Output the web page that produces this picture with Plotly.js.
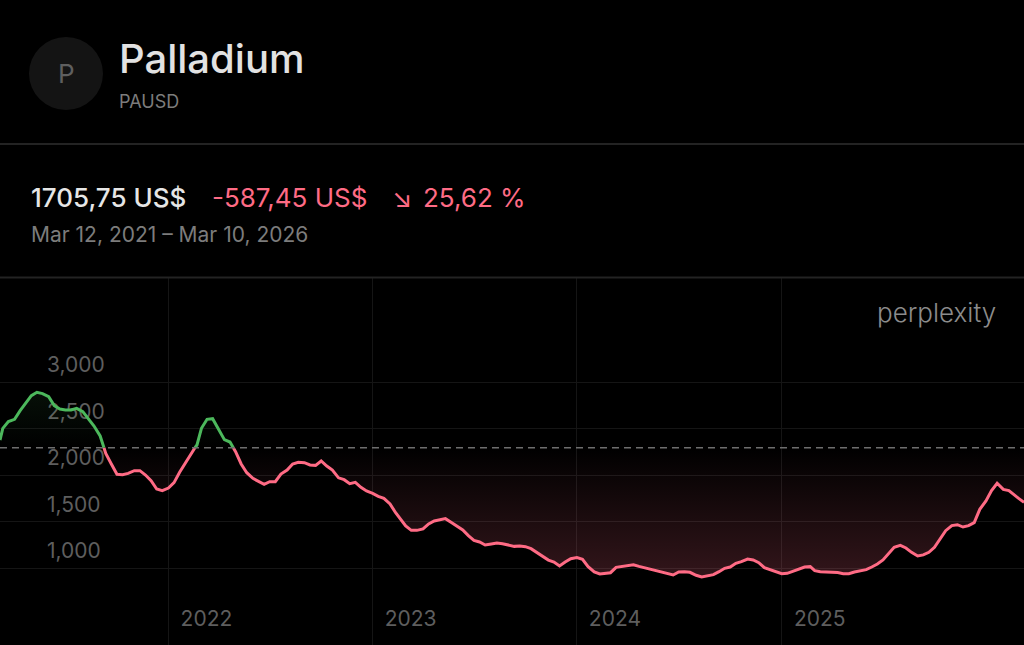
<!DOCTYPE html>
<html><head><meta charset="utf-8">
<script src="https://cdn.plot.ly/plotly-3.0.1.min.js"></script>
<style>html,body{margin:0;padding:0;background:#000;overflow:hidden}#c{width:1024px;height:645px}</style>
</head><body><div id="c"></div>
<script>
const dates = [
"2021-03-06","2021-03-11","2021-03-21","2021-04-01","2021-04-11","2021-04-21","2021-05-01","2021-05-11","2021-05-21","2021-06-01","2021-06-11","2021-06-21","2021-07-01","2021-07-11","2021-07-21","2021-08-01","2021-08-11","2021-08-21","2021-09-01","2021-09-11","2021-09-21","2021-10-01","2021-10-11","2021-10-21","2021-11-01","2021-11-11","2021-11-21","2021-12-01","2021-12-11","2021-12-21",
"2022-01-01","2022-01-11","2022-01-21","2022-02-01","2022-02-11","2022-02-21","2022-03-01","2022-03-11","2022-03-21","2022-04-01","2022-04-11","2022-04-21","2022-05-01","2022-05-11","2022-05-21","2022-06-01","2022-06-11","2022-06-21","2022-07-01","2022-07-11","2022-07-21","2022-08-01","2022-08-11","2022-08-21","2022-09-01","2022-09-11","2022-09-21","2022-10-01","2022-10-11","2022-10-21","2022-11-01","2022-11-11","2022-11-21","2022-12-01","2022-12-11","2022-12-21",
"2023-01-01","2023-01-11","2023-01-21","2023-02-01","2023-02-11","2023-02-21","2023-03-01","2023-03-11","2023-03-21","2023-04-01","2023-04-11","2023-04-21","2023-05-01","2023-05-11","2023-05-21","2023-06-01","2023-06-11","2023-06-21","2023-07-01","2023-07-11","2023-07-21","2023-08-01","2023-08-11","2023-08-21","2023-09-01","2023-09-11","2023-09-21","2023-10-01","2023-10-11","2023-10-21","2023-11-01","2023-11-11","2023-11-21","2023-12-01","2023-12-11","2023-12-21",
"2024-01-01","2024-01-11","2024-01-21","2024-02-01","2024-02-11","2024-02-21","2024-03-01","2024-03-11","2024-03-21","2024-04-01","2024-04-11","2024-04-21","2024-05-01","2024-05-11","2024-05-21","2024-06-01","2024-06-11","2024-06-21","2024-07-01","2024-07-11","2024-07-21","2024-08-01","2024-08-11","2024-08-21","2024-09-01","2024-09-11","2024-09-21","2024-10-01","2024-10-11","2024-10-21","2024-11-01","2024-11-11","2024-11-21","2024-12-01","2024-12-11","2024-12-21",
"2025-01-01","2025-01-11","2025-01-21","2025-02-01","2025-02-11","2025-02-21","2025-03-01","2025-03-11","2025-03-21","2025-04-01","2025-04-11","2025-04-21","2025-05-01","2025-05-11","2025-05-21","2025-06-01","2025-06-11","2025-06-21","2025-07-01","2025-07-11","2025-07-21","2025-08-01","2025-08-11","2025-08-21","2025-09-01","2025-09-11","2025-09-21","2025-10-01","2025-10-11","2025-10-21","2025-11-01","2025-11-11","2025-11-21","2025-12-01","2025-12-11","2025-12-21",
"2026-01-01","2026-01-11","2026-01-21","2026-02-01","2026-02-11","2026-02-21","2026-03-01","2026-03-10"];
const prices = [
2376,2502,2574,2599,2692,2771,2853,2889,2875,2842,2746,2710,2699,2699,2717,2681,2609,2527,2420,2233,2119,2008,2004,2018,2047,2047,2000,1939,1850,1832,
1860,1918,2029,2133,2240,2323,2502,2599,2606,2484,2380,2355,2251,2119,2025,1964,1932,1900,1929,1929,2011,2054,2119,2137,2133,2108,2104,2151,2097,2054,1970,1950,1907,1921,1868,1828,
1803,1771,1749,1689,1595,1509,1452,1405,1405,1420,1474,1506,1520,1531,1491,1452,1409,1348,1298,1280,1248,1259,1269,1262,1248,1233,1237,1230,1208,1169,1122,1086,1065,1022,1065,1101,
1112,1094,1015,958,936,943,950,1008,1018,1033,1036,1018,1004,990,975,961,940,925,958,961,954,922,904,915,929,961,997,1011,1051,1069,1097,1087,1058,1004,983,965,
940,943,965,997,1011,1015,972,961,958,958,951,940,940,958,972,983,1011,1044,1087,1155,1223,1244,1216,1169,1130,1141,1169,1223,1316,1402,1456,1466,1441,1456,1488,1631,
1721,1832,1911,1846,1832,1789,1746,1705.75];
const baseline = 2293.2;
const yTicks = [1000,1500,2000,2500,3000];
const yearTicks = ["2022-01-01","2023-01-01","2024-01-01","2025-01-01"];
const yearLabels = ["2022","2023","2024","2025"];

const UP="#4cb85c", DOWN="#ff6b85";
// insert the baseline crossings so the colour changes exactly on the dashed line
const xs=[], ys=[];
dates.forEach((d,i)=>{
  if(i>0 && (prices[i-1]-baseline)*(prices[i]-baseline)<0){
    const a=Date.parse(dates[i-1]), b=Date.parse(d), t=(baseline-prices[i-1])/(prices[i]-prices[i-1]);
    xs.push(new Date(a+(b-a)*t).toISOString()); ys.push(baseline);
  }
  xs.push(d); ys.push(prices[i]);
});
const base=xs.map(()=>baseline);
const line=(y,c)=>({x:xs,y,mode:'lines',line:{color:c,width:3},hoverinfo:'skip',showlegend:false,connectgaps:false});
const none={x:xs,y:base,mode:'lines',line:{width:0},hoverinfo:'skip',showlegend:false};
const traces=[
 none,
 {x:xs,y:ys.map(v=>Math.min(v,baseline)),mode:'lines',line:{width:0},fill:'tonexty',hoverinfo:'skip',showlegend:false,
  fillgradient:{type:'vertical',start:baseline,stop:900,colorscale:[[0,'rgba(255,107,133,0)'],[1,'rgba(255,107,133,0.2)']]}},
 none,
 {x:xs,y:ys.map(v=>Math.max(v,baseline)),mode:'lines',line:{width:0},fill:'tonexty',hoverinfo:'skip',showlegend:false,
  fillgradient:{type:'vertical',start:baseline,stop:3700,colorscale:[[0,'rgba(76,184,92,0)'],[1,'rgba(76,184,92,0.2)']]}},
 line(ys.map(v=>v<=baseline?v:null),DOWN),
 line(ys.map(v=>v>=baseline?v:null),UP)
];
const H=645, TOP=278;
const px=x=>x/1024, py=y=>(H-y)/(H-TOP);
const FONT="Inter, 'Liberation Sans', sans-serif";
const txt=(x,y,text,size,color,extra)=>Object.assign({xref:'paper',yref:'paper',x:px(x),y:py(y),text,showarrow:false,xanchor:'left',yanchor:'middle',
  font:{family:FONT,size,color},align:'left',borderpad:0},extra||{});
const layout={
 width:1024,height:645,paper_bgcolor:'#000',plot_bgcolor:'#000',showlegend:false,
 margin:{l:0,r:0,t:TOP,b:0,pad:0},
 font:{family:FONT},
 xaxis:{type:'date',range:['2021-03-06','2026-03-10'],tickvals:yearTicks,ticktext:yearLabels,showgrid:true,gridcolor:'#151515',gridwidth:1,
   zeroline:false,showline:false,ticks:'',ticklabelposition:'inside',ticklabelshift:38,ticklabelstandoff:12,tickfont:{family:FONT,size:21,color:'#5e5e5e'},layer:'below traces'},
 yaxis:{range:[172.75,4118],tickvals:yTicks,tickformat:',d',showgrid:true,gridcolor:'#151515',gridwidth:1,zeroline:false,showline:false,ticks:'',
   ticklabelposition:'inside',ticklabelshift:-17,ticklabelstandoff:44,tickfont:{family:FONT,size:21,color:'#5e5e5e'},layer:'below traces'},
 shapes:[
  {type:'circle',xref:'paper',yref:'paper',x0:px(29),x1:px(103),y0:py(37),y1:py(110),fillcolor:'#141414',line:{width:0}},
  {type:'line',xref:'paper',yref:'paper',x0:0,x1:1,y0:py(144),y1:py(144),line:{color:'#232323',width:2}},
  {type:'line',xref:'paper',yref:'paper',x0:0,x1:1,y0:py(277.5),y1:py(277.5),line:{color:'#232323',width:2}},
  {type:'line',xref:'paper',yref:'y',x0:0,x1:1,y0:baseline,y1:baseline,line:{color:'#6e6e6e',width:1.5,dash:'7px,5px'}}
 ],
 annotations:[
  txt(57,73,'P',26,'#5f5f5f'),
  txt(118,59,'Palladium',40,'#e2e2e2',{font:{family:FONT,size:40,color:'#e2e2e2',weight:500}}),
  txt(118,101,'PAUSD',18,'#7c7c7c'),
  txt(30,198,'1705,75 US$',26,'#e6e6e6',{font:{family:FONT,size:26,color:'#e6e6e6',weight:500}}),
  txt(211,198,'-587,45 US$',26,DOWN),
  txt(391,198,'↘',26,DOWN),
  txt(422,198,'25,62 %',26,DOWN),
  txt(30,234,'Mar 12, 2021 – Mar 10, 2026',21,'#7c7c7c'),
  txt(876,312,'perplexity',26,'#8c8c8c',{font:{family:FONT,size:26,color:'#8c8c8c',weight:300}})
 ]
};
Plotly.newPlot('c',traces,layout,{displayModeBar:false,staticPlot:true});
</script></body></html>
